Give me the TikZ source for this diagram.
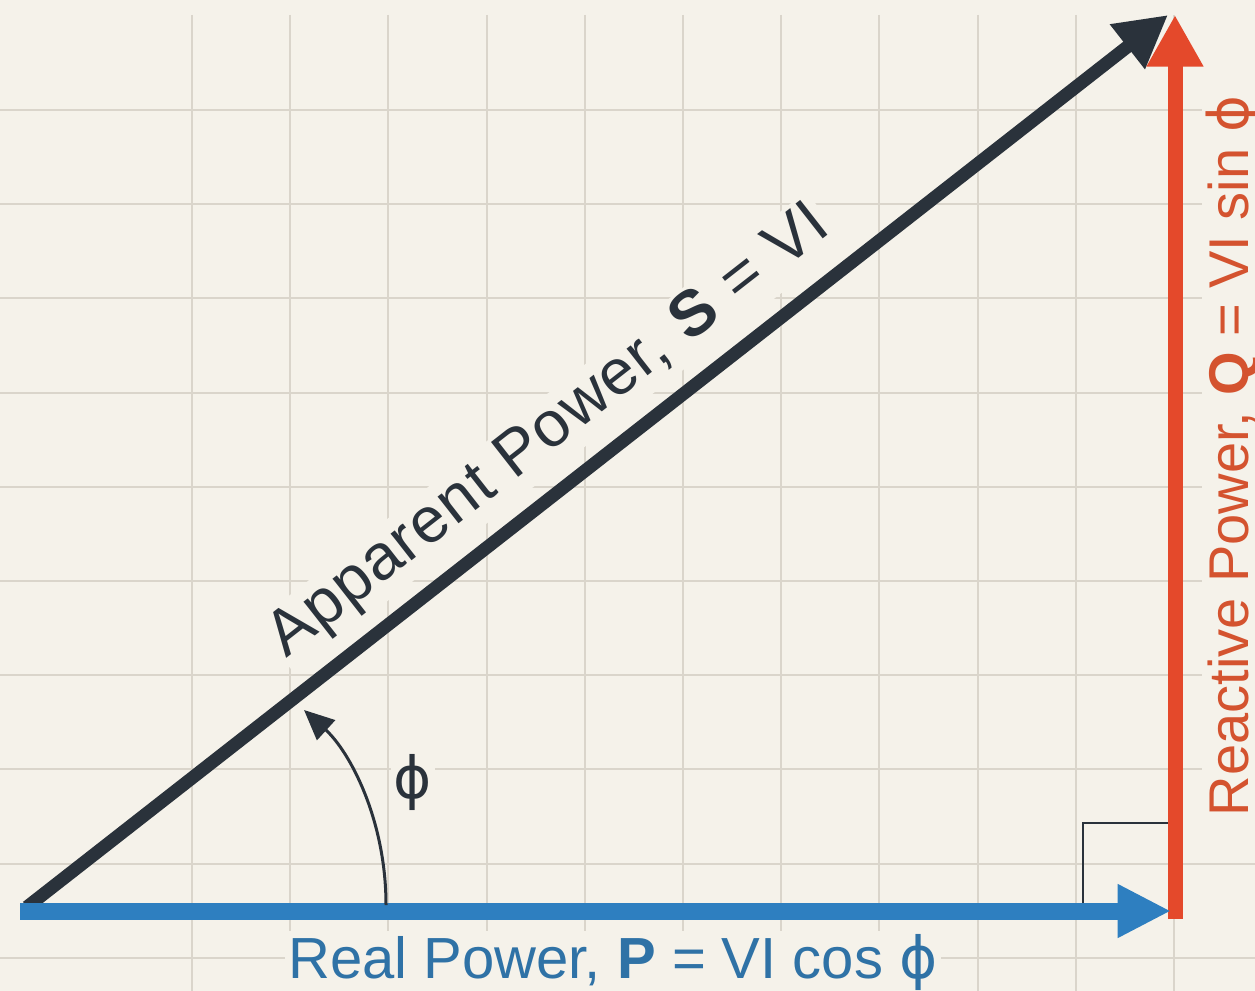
\documentclass[tikz,border=0pt]{standalone}
\usepackage{fontspec}
\setmainfont{Liberation Sans}
\newfontfamily\dejavu{DejaVu Sans}
\usetikzlibrary{arrows.meta}
\definecolor{bgc}{HTML}{F5F2EA}
\definecolor{gridc}{HTML}{DAD5CB}
\definecolor{darkc}{HTML}{2A323B}
\definecolor{bluec}{HTML}{2E7FC0}
\definecolor{bluetxt}{HTML}{2F72A6}
\definecolor{redc}{HTML}{E4492B}
\definecolor{redtxt}{HTML}{D4532F}
\newcommand{\phs}{{\dejavu ϕ}}
\begin{document}
\begin{tikzpicture}[x=0.6pt,y=-0.6pt,
  gridline/.style={draw=gridc,line width=1.1pt},
  txtlabel/.style={fill=bgc,inner sep=2pt},
  bigfont/.style={font=\fontsize{34.8pt}{40pt}\selectfont},
  qfont/.style={font=\fontsize{33.6pt}{40pt}\selectfont},
  sfont/.style={font=\fontsize{38.5pt}{44pt}\selectfont\addfontfeature{LetterSpace=2}},
  bighead/.style={-{Triangle[length=31pt,width=32pt]}},
]
\fill[bgc] (0,0) rectangle (1255,991);
\useasboundingbox (0,0) rectangle (1255,991);
% grid
\foreach \k in {0,...,10} \draw[gridline] ({192+98.2*\k},15) -- ({192+98.2*\k},991);
\foreach \k in {0,...,9} \draw[gridline] (0,{110+94.2*\k}) -- (1255,{110+94.2*\k});
% points
\coordinate (O) at (20,911);
\coordinate (OS) at (27,907);
\coordinate (Ptip) at (1171,911);
\coordinate (Sbase) at (1168,15);
\coordinate (Qbase) at (1175,919);
\coordinate (Qtip) at (1175,15);
\coordinate (A0) at (386,905);
\coordinate (A1) at (304,710);
\coordinate (R1) at (1083,903);
\coordinate (R2) at (1083,823);
\coordinate (R3) at (1168,823);
% labels
\node[txtlabel, sfont, text=darkc, rotate=38.02, anchor=base] (lS) at (560,445) {Apparent Power, \textbf{S} = VI};
\node[txtlabel, bigfont, text=bluetxt, anchor=base] (lP) at (613,978) {Real Power, \textbf{P} = VI cos \phs};
\node[txtlabel, qfont, text=redtxt, rotate=90, anchor=base] (lQ) at (1248,456) {Reactive Power, \textbf{Q} = VI sin \phs};
\node[txtlabel, bigfont, text=darkc] (lphi) at (413,782) {\phs};
% vectors
\draw[darkc, line width=7.8pt, bighead] (OS) -- (Sbase);
\draw[redc, line width=9pt, bighead] (Qbase) -- (Qtip);
\draw[bluec, line width=10.2pt, -{Triangle[length=32pt,width=30pt]}] (O) -- (Ptip);
% right angle
\draw[darkc, line width=1.4pt] (R1) -- (R2) -- (R3);
% angle arc
\draw[darkc, line width=1.8pt, -{Triangle[length=18pt,width=16pt]}] (A0) .. controls (386,820) and (350,752) .. (A1);
\end{tikzpicture}
\end{document}
